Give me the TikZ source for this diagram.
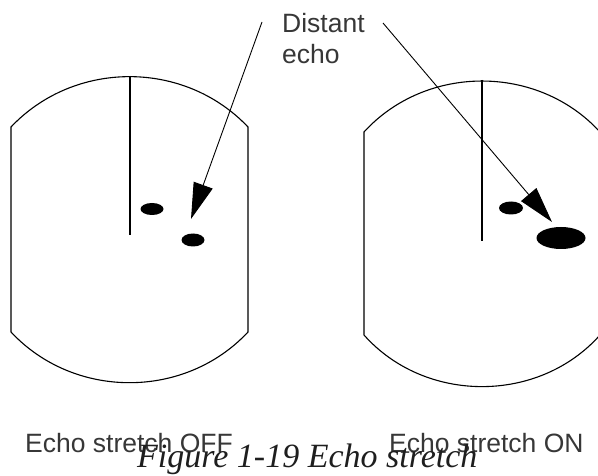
\documentclass[tikz,border=0pt]{standalone}
\usepackage{fontspec}
\usepackage{tikz}
\usetikzlibrary{arrows.meta,shapes.geometric}
\newfontfamily\eslabelfont{Liberation Sans}
\newfontfamily\escapfont{Liberation Serif}
\definecolor{estext}{RGB}{55,55,55}
\definecolor{escap}{RGB}{30,30,30}
\tikzset{
  esscreen/.style={draw=black, line width=1.1pt},
  esecho/.style={ellipse, fill=black, inner sep=0pt},
  esarr/.style={-{Triangle[length=36pt, width=20pt]}, line width=0.9pt, draw=black},
  eslabel/.style={font=\eslabelfont\fontsize{26.5}{31}\selectfont, text=estext, inner sep=0pt, align=left},
  escaption/.style={font=\escapfont\itshape\fontsize{34}{40}\selectfont, text=escap, inner sep=0pt}
}

\begin{document}
\begin{tikzpicture}[x=1pt, y=1pt]
  \useasboundingbox (0,0) rectangle (598,475);
  % screen, stretch off
  \draw[esscreen] (11,143) -- (11,348) to[bend left=46.6] (248,348)
    -- (248,143) to[bend left=47] (11,143);
  \draw[esscreen] (130,399) -- (130,240);
  % screen, stretch on
  \draw[esscreen] (364,140) -- (364,343) to[bend left=47.6] (600,343)
    -- (600,140) to[bend left=48.4] (364,140);
  \draw[esscreen] (482,395) -- (482,234);
  % echoes
  \node[esecho, minimum width=23pt, minimum height=12pt] (nearoff) at (152,266) {};
  \node[esecho, minimum width=23pt, minimum height=13pt] (faroff) at (193,235) {};
  \node[esecho, minimum width=24pt, minimum height=13pt] (nearon) at (511,267) {};
  \node[esecho, minimum width=49pt, minimum height=22pt] (faron) at (561,237) {};
  % label and arrows
  \node[eslabel, anchor=north west] (distant) at (282,462) {Distant\\echo};
  \coordinate (tailoff) at (262,453);
  \coordinate (tipoff) at (191,256);
  \coordinate (tailon) at (383,452);
  \coordinate (tipon) at (552,253);
  \draw[esarr] (tailoff) -- (tipoff);
  \draw[esarr] (tailon) -- (tipon);
  % captions
  \node[eslabel, anchor=base west] (offlabel) at (25,23) {Echo stretch OFF};
  \node[eslabel, anchor=base west] (onlabel) at (389,23) {Echo stretch ON};
  \node[escaption, anchor=base west] (caption) at (137,8) {Figure 1-19 Echo stretch};
\end{tikzpicture}
\end{document}
